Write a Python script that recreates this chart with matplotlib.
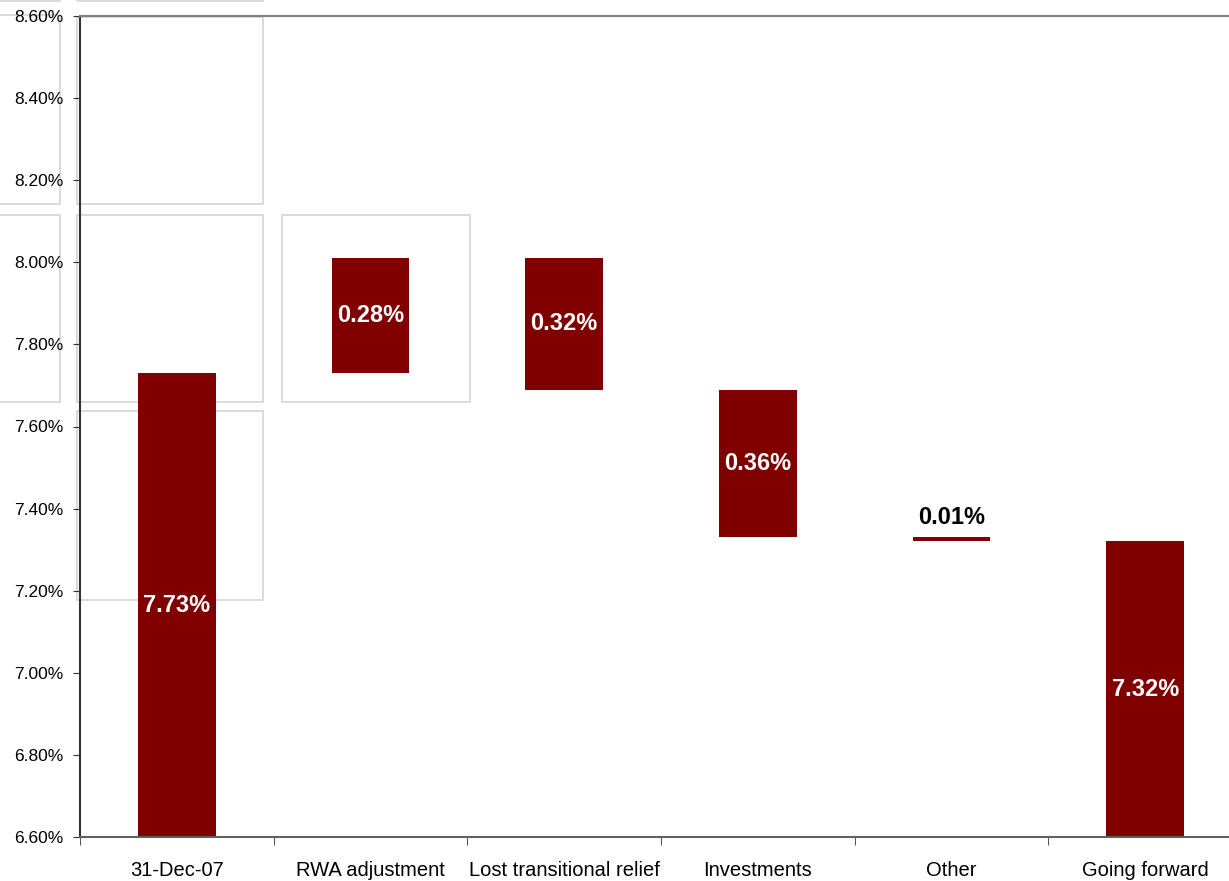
import matplotlib.pyplot as plt
from matplotlib.patches import Rectangle
import numpy as np

plt.rcParams['font.family'] = ['Liberation Sans', 'DejaVu Sans']

categories = ['31-Dec-07', 'RWA adjustment', 'Lost transitional relief',
              'Investments', 'Other', 'Going forward']
start_value = 7.73
changes = [0.28, -0.32, -0.36, -0.01]
end_value = 7.32
axis_floor = 6.60

# waterfall: bottoms and heights of each bar
bottoms = [axis_floor]
heights = [start_value - axis_floor]
level = start_value
for c in changes:
    bottoms.append(min(level, level + c))
    heights.append(abs(c))
    level += c
bottoms.append(axis_floor)
heights.append(end_value - axis_floor)
labels = ['%.2f%%' % start_value] + ['%.2f%%' % abs(c) for c in changes] + ['%.2f%%' % end_value]

W, H = 1229, 881
fig = plt.figure(figsize=(W / 100, H / 100), dpi=100)
ax = fig.add_axes([80 / W, 44 / H, (1242 - 80) / W, (837 - 16) / H])

# faint grey frames sitting behind the plot
frames = [(-5, -200, 60, 1), (77, -200, 263, 1),
          (-5, 15, 60, 204), (77, 17, 263, 204),
          (-5, 215, 60, 402), (77, 215, 263, 402), (282, 215, 470, 402),
          (77, 411, 263, 600)]
for x0, y0, x1, y1 in frames:
    r = Rectangle((x0 / W, 1 - y1 / H), (x1 - x0) / W, (y1 - y0) / H,
                  transform=fig.transFigure, fill=False, edgecolor='#d8d8d8',
                  linewidth=1.3, zorder=0.5, clip_on=False)
    ax.add_patch(r)

x = np.arange(len(categories))
ax.bar(x, heights, bottom=bottoms, width=0.4, color='#800000', zorder=2)

for i, (b, h, t) in enumerate(zip(bottoms, heights, labels)):
    if h < 0.05:
        ax.text(i, b + h + 0.02, t, ha='center', va='bottom', fontsize=17,
                fontweight='bold', color='black', zorder=3)
    else:
        ax.text(i, b + h / 2, t, ha='center', va='center', fontsize=17,
                fontweight='bold', color='white', zorder=3)

ax.set_xlim(-0.5, len(categories) - 0.5)
ax.set_ylim(6.6, 8.6)
ax.set_yticks(np.arange(6.6, 8.61, 0.2))
ax.set_yticklabels(['%.2f%%' % v for v in np.arange(6.6, 8.61, 0.2)], fontsize=12.5)
ax.set_xticks(x)
ax.set_xticklabels(categories, fontsize=14.5)
ax.set_xticks(np.arange(-0.5, len(categories), 1), minor=True)
ax.tick_params(axis='x', which='major', length=0, pad=17)
ax.tick_params(axis='x', which='minor', length=6, color='#333333')
ax.tick_params(axis='y', length=5, pad=7, color='#333333')

ax.spines['right'].set_visible(False)
ax.spines['top'].set_color('#808080')
ax.spines['top'].set_linewidth(1.5)
ax.spines['bottom'].set_color('#606060')
ax.spines['bottom'].set_linewidth(1.5)
ax.spines['left'].set_color('#333333')
ax.spines['left'].set_linewidth(1.5)

fig.savefig('out.png', dpi=100)
